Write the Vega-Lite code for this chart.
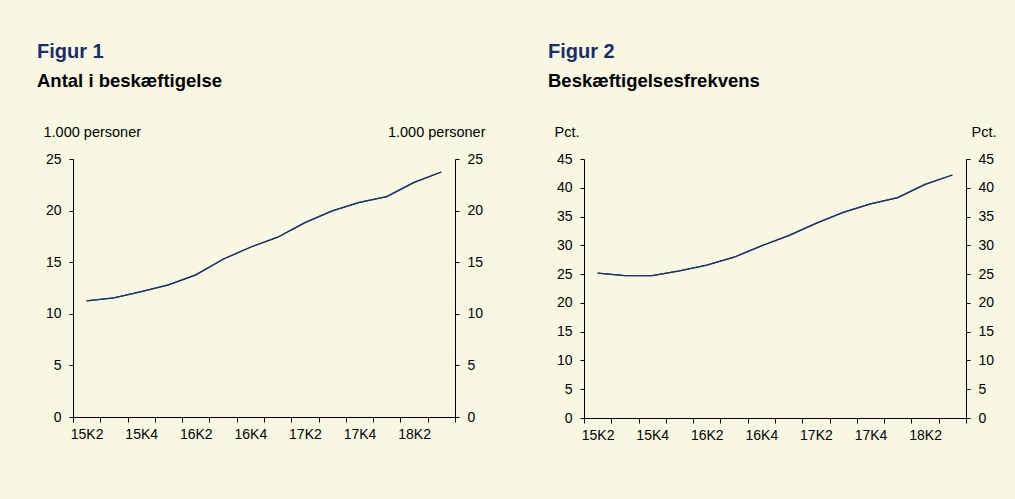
{
  "$schema": "https://vega.github.io/schema/vega-lite/v6.json",
  "autosize": {"type": "none"},
  "padding": {"left": 73, "top": 159, "right": 942, "bottom": 340},
  "background": "#F8F8E2",
  "bounds": "flush",
  "spacing": 129,
  "config": {
    "font": "Liberation Sans",
    "view": {"stroke": null},
    "axis": {
      "labelFont": "Liberation Sans",
      "titleFont": "Liberation Sans",
      "labelFontSize": 14,
      "labelColor": "#000000",
      "domainColor": "#000000",
      "tickColor": "#000000",
      "grid": false,
      "titleFontWeight": "normal",
      "titleFontSize": 14.5,
      "titleColor": "#000000"
    },
    "title": {
      "anchor": "start",
      "frame": "group",
      "font": "Liberation Sans",
      "fontSize": 20,
      "fontWeight": "bold",
      "color": "#1B2C6B",
      "subtitleFont": "Liberation Sans",
      "subtitleFontSize": 18.5,
      "subtitleFontWeight": "bold",
      "subtitleColor": "#000000",
      "subtitlePadding": 10,
      "offset": 34,
      "dx": -36
    }
  },
  "datasets": {
    "f1": [
      {"q": "15K2", "v": 11.26},
      {"q": "15K3", "v": 11.55},
      {"q": "15K4", "v": 12.16},
      {"q": "16K1", "v": 12.8},
      {"q": "16K2", "v": 13.77},
      {"q": "16K3", "v": 15.29},
      {"q": "16K4", "v": 16.45},
      {"q": "17K1", "v": 17.42},
      {"q": "17K2", "v": 18.84},
      {"q": "17K3", "v": 19.97},
      {"q": "17K4", "v": 20.8},
      {"q": "18K1", "v": 21.35},
      {"q": "18K2", "v": 22.74},
      {"q": "18K3", "v": 23.74}
    ],
    "f2": [
      {"q": "15K2", "v": 25.16},
      {"q": "15K3", "v": 24.75},
      {"q": "15K4", "v": 24.75},
      {"q": "16K1", "v": 25.56},
      {"q": "16K2", "v": 26.55},
      {"q": "16K3", "v": 27.93},
      {"q": "16K4", "v": 29.9},
      {"q": "17K1", "v": 31.7},
      {"q": "17K2", "v": 33.83},
      {"q": "17K3", "v": 35.74},
      {"q": "17K4", "v": 37.19},
      {"q": "18K1", "v": 38.29},
      {"q": "18K2", "v": 40.6},
      {"q": "18K3", "v": 42.22}
    ]
  },
  "hconcat": [
    {
      "width": 382,
      "height": 258,
      "title": {"text": "Figur 1", "subtitle": "Antal i beskæftigelse"},
      "data": {"name": "f1"},
      "encoding": {
        "x": {
          "field": "q",
          "type": "ordinal",
          "scale": {"type": "band", "paddingInner": 0, "paddingOuter": 0},
          "axis": {
            "title": null,
            "labelAngle": 0,
            "tickBand": "extent",
            "tickSize": 5,
            "labelPadding": 5,
            "labelExpr": "test(/K[24]$/, datum.value) ? datum.value : ''"
          }
        }
      },
      "layer": [
        {
          "mark": {"type": "line", "color": "#1F3370", "strokeWidth": 1.3},
          "encoding": {
            "y": {
              "field": "v",
              "type": "quantitative",
              "scale": {"domain": [0, 25]},
              "axis": {
                "orient": "left",
                "values": [0, 5, 10, 15, 20, 25],
                "tickSize": 4,
                "labelPadding": 8,
                "title": "1.000 personer",
                "titleAngle": 0,
                "titleAlign": "left",
                "titleBaseline": "middle",
                "titleX": -30,
                "titleY": -27
              }
            }
          }
        },
        {
          "mark": {"type": "line", "color": "#1F3370", "strokeWidth": 1.3},
          "encoding": {
            "y": {
              "field": "v",
              "type": "quantitative",
              "scale": {"domain": [0, 25]},
              "axis": {
                "orient": "right",
                "values": [0, 5, 10, 15, 20, 25],
                "tickSize": 4,
                "labelPadding": 8,
                "title": "1.000 personer",
                "titleAngle": 0,
                "titleAlign": "right",
                "titleBaseline": "middle",
                "titleX": 30,
                "titleY": -27
              }
            }
          }
        }
      ],
      "resolve": {"scale": {"y": "independent"}}
    },
    {
      "width": 382,
      "height": 259,
      "title": {"text": "Figur 2", "subtitle": "Beskæftigelsesfrekvens"},
      "data": {"name": "f2"},
      "encoding": {
        "x": {
          "field": "q",
          "type": "ordinal",
          "scale": {"type": "band", "paddingInner": 0, "paddingOuter": 0},
          "axis": {
            "title": null,
            "labelAngle": 0,
            "tickBand": "extent",
            "tickSize": 5,
            "labelPadding": 5,
            "labelExpr": "test(/K[24]$/, datum.value) ? datum.value : ''"
          }
        }
      },
      "layer": [
        {
          "mark": {"type": "line", "color": "#1F3370", "strokeWidth": 1.3},
          "encoding": {
            "y": {
              "field": "v",
              "type": "quantitative",
              "scale": {"domain": [0, 45]},
              "axis": {
                "orient": "left",
                "values": [0, 5, 10, 15, 20, 25, 30, 35, 40, 45],
                "tickSize": 4,
                "labelPadding": 8,
                "title": "Pct.",
                "titleAngle": 0,
                "titleAlign": "left",
                "titleBaseline": "middle",
                "titleX": -30,
                "titleY": -27
              }
            }
          }
        },
        {
          "mark": {"type": "line", "color": "#1F3370", "strokeWidth": 1.3},
          "encoding": {
            "y": {
              "field": "v",
              "type": "quantitative",
              "scale": {"domain": [0, 45]},
              "axis": {
                "orient": "right",
                "values": [0, 5, 10, 15, 20, 25, 30, 35, 40, 45],
                "tickSize": 4,
                "labelPadding": 8,
                "title": "Pct.",
                "titleAngle": 0,
                "titleAlign": "right",
                "titleBaseline": "middle",
                "titleX": 30,
                "titleY": -27
              }
            }
          }
        }
      ],
      "resolve": {"scale": {"y": "independent"}}
    }
  ]
}
